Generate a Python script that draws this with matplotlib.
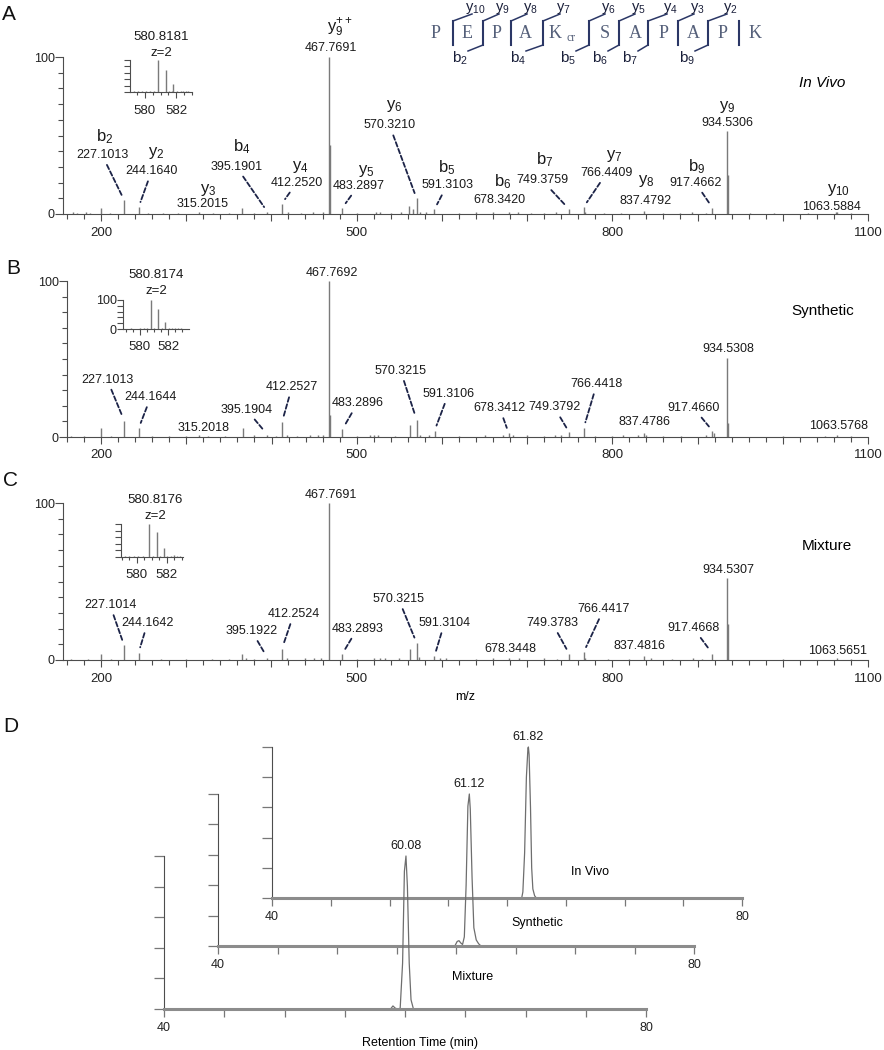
import numpy as np
import matplotlib
matplotlib.use("Agg")
import matplotlib.pyplot as plt
from matplotlib.ticker import MultipleLocator, FixedLocator, FuncFormatter

plt.rcParams["font.family"] = ["Liberation Sans", "DejaVu Sans"]
plt.rcParams["mathtext.default"] = "regular"

W, H = 884, 1050
PEAK = "#7a7a7a"
AXC = "#4d4d4d"
LEAD = "#1c2347"

# ---------------- MS/MS spectra (m/z, relative intensity %) ----------------
a_mz = [166.8, 172, 182.4, 187, 200.0, 211, 227.10, 244.16, 255, 273,
        290, 315.20, 331, 350, 365.6, 380, 395.19, 412.25, 419.5, 435,
        448.8, 460.5, 467.77, 468.27, 483.29, 500, 523, 527, 540, 552.4,
        562, 566, 570.32, 574, 581.7, 591.31, 620.7, 640, 659.8, 678.34,
        689, 705, 720, 734, 749.38, 766.44, 768, 790, 810, 837.48,
        860, 880, 894, 910, 917.47, 934.53, 935.53, 961, 990, 1030,
        1062, 1063.59, 1080]
a_int = [1, 0.7, 1, 0.8, 3.8, 0.6, 9, 4.3, 0.7, 0.8,
         0.6, 1.5, 0.6, 0.8, 4, 0.7, 1.5, 6.6, 1.2, 0.8,
         1.2, 1.5, 100, 44, 4, 0.6, 1.5, 1.2, 0.7, 1.2,
         5, 3.5, 10, 1.5, 1.2, 3, 0.8, 1.3, 1.0, 1.3,
         1.0, 0.7, 0.6, 1.0, 3, 4.5, 1.5, 0.7, 0.8, 2,
         0.6, 0.8, 1.2, 0.7, 4, 53, 25, 0.8, 0.6, 0.6,
         1.0, 1.2, 0.6]

b_mz = [165, 180, 200.0, 212, 227.10, 244.16, 260, 280, 300, 315.20,
        325, 345, 367, 380, 395.19, 405, 412.25, 418, 430, 445,
        455, 460, 467.77, 468.27, 483.29, 500, 515, 520, 525, 545,
        562, 570.32, 574, 585, 591.31, 620, 650, 672, 678.34, 683,
        700, 720, 733, 740, 749.38, 766.44, 780, 800, 812, 830,
        837.48, 840, 860, 880, 910, 917.47, 919, 934.53, 935.53, 1000,
        1050, 1063.58, 1080]
b_int = [0.6, 0.7, 5.7, 0.6, 10.5, 5.7, 0.7, 0.8, 0.6, 1.5,
         0.8, 0.6, 6, 1, 1.5, 0.8, 9.5, 1.5, 0.8, 1,
         1.2, 1.5, 100, 14, 5, 0.8, 1.2, 1, 1, 0.8,
         8, 11, 1.5, 1.2, 4, 0.8, 1.2, 1.5, 2.5, 1.5,
         1.5, 0.8, 1, 1.2, 3, 6, 0.8, 0.6, 1.2, 1,
         2.5, 1.2, 0.8, 0.6, 1.0, 4, 2.5, 50.6, 9, 0.6,
         0.8, 1, 0.8]

c_mz = [165, 185, 200.0, 212, 227.10, 244.16, 270, 300, 330, 350,
        365, 370, 380, 395.19, 412.25, 418, 440, 450, 458, 467.77,
        483.29, 500, 520, 527, 533, 550, 563, 570.32, 573, 591.31,
        598, 605, 640, 660, 678.34, 690, 720, 735, 749.38, 766.44,
        768, 795, 820, 837.48, 845, 870, 895, 905, 917.47, 934.53,
        935.53, 1000, 1063.57, 1080]
c_int = [0.6, 0.8, 4, 0.6, 9.5, 4.7, 0.6, 0.8, 0.6, 0.7,
         4, 1, 0.8, 1.5, 7, 1.5, 1, 1.2, 1.5, 100,
         4, 0.8, 1, 1.5, 1, 1.2, 7, 11, 2, 2.5,
         1.5, 1, 0.8, 1, 1.5, 1.5, 1.2, 0.8, 4, 5,
         1.5, 0.6, 0.8, 2.5, 1.2, 0.6, 1.2, 0.8, 4, 52,
         23, 0.6, 1, 0.6]

# precursor isotope insets
a_iso_mz = [579.3, 579.6, 579.8, 580.1, 580.35, 580.6, 580.82, 581.32, 581.55, 581.7,
            581.82, 582.05, 582.3, 582.45, 582.6, 582.75]
a_iso_int = [3, 2, 3, 2, 3, 2, 100, 68, 3, 4, 26, 3, 4, 3, 3, 2]
b_iso_mz = [579.4, 580.0, 580.3, 580.5, 580.82, 581.0, 581.32, 581.55, 581.82, 582.1,
            582.3, 582.5, 582.7, 582.9]
b_iso_int = [2, 3, 3, 3, 100, 4, 68, 3, 25, 4, 3, 5, 3, 3]
c_iso_mz = [579.2, 579.5, 579.8, 580.1, 580.4, 580.82, 581.1, 581.32, 581.55, 581.82,
            582.05, 582.3, 582.5, 582.7, 582.9]
c_iso_int = [3, 3, 2, 3, 2, 100, 4, 75, 4, 27, 3, 4, 5, 3, 3]
precursor = ["580.8181", "580.8174", "580.8176"]

# labelled fragments: text, offset x/y (px), leader, [ion, ion offset x/y]
ann_a = [("227.1013", -22, 45, True, "b$_2$", 3, 18),
         ("244.1640", 13, 36, True, "y$_2$", 5, 18),
         ("315.2015", 3, 8, False, "y$_3$", 6, 14),
         ("395.1901", -31, 45, True, "b$_4$", 5, 20),
         ("412.2520", 15, 21, True, "y$_4$", 3, 16),
         ("467.7691", 1.5, 9, False, "y$_9^{++}$", 9, 20),
         ("483.2897", 16, 22, True, "y$_5$", 8, 15),
         ("570.3210", -27, 73, True, "y$_6$", 5, 19),
         ("591.3103", 12.6, 24, True, "b$_5$", 0, 18),
         ("678.3420", -9, 12, False, "b$_6$", 3, 18),
         ("749.3759", -27, 29, True, "b$_7$", 3, 21),
         ("766.4409", 23, 34, True, "y$_7$", 7, 17),
         ("837.4792", 1, 10, False, "y$_8$", 1, 20),
         ("917.4662", -17, 25, True, "b$_9$", 1, 16),
         ("934.5306", 0, 8, False, "y$_9$", 0, 16),
         ("1063.5884", -5, 5, False, "y$_{10}$", 7, 17)]
ann_b = [("227.1013", -17, 41, True), ("244.1644", 12, 31, True),
         ("315.2018", 4, 7, False), ("395.1904", -21, 25, True),
         ("412.2527", 10, 35, True), ("467.7692", 2.5, 8, False),
         ("483.2896", 15, 26, True), ("570.3215", -16, 49, True),
         ("591.3106", 14, 37, True), ("678.3412", -9, 25, True),
         ("749.3792", -15, 25, True), ("766.4418", 13, 43.5, True),
         ("837.4786", 0, 11, False), ("917.4660", -19, 23, True),
         ("934.5308", 1, 9, False), ("1063.5768", 1.6, 9, False)]
ann_c = [("227.1014", -14, 40, True), ("244.1642", 9, 29.6, True),
         ("395.1922", -15.6, 26.6, True), ("412.2524", 12, 35, True),
         ("467.7691", 1.5, 8, False), ("483.2893", 15, 25, True),
         ("570.3215", -18, 43.7, True), ("591.3104", 10, 33, True),
         ("678.3448", 1.3, 8.6, False), ("749.3783", -17, 30.7, True),
         ("766.4417", 20, 43, True), ("837.4816", -4.5, 10, False),
         ("917.4668", -19, 25.7, True), ("934.5307", 1, 8, False),
         ("1063.5651", 1, 7.4, False)]

# ---------------- extracted ion chromatograms ----------------
iv_t = [40, 61.25, 61.35, 61.5, 61.65, 61.78, 61.82, 61.88, 62.0, 62.1, 62.2, 62.35, 62.5, 80]
iv_i = [0, 0, 4, 30, 80, 99, 100, 95, 60, 20, 6, 1.5, 0, 0]
syn_t = [40, 59.9, 60.1, 60.25, 60.4, 60.55, 60.7, 60.85, 61.0, 61.12, 61.2, 61.35, 61.5, 61.7, 61.9, 62.1, 80]
syn_i = [0, 0, 3, 3.5, 2, 1, 6, 40, 92, 100, 90, 45, 12, 4, 1.5, 0, 0]
mix_t = [40, 58.8, 59.0, 59.2, 59.4, 59.6, 59.8, 59.95, 60.08, 60.2, 60.35, 60.5, 60.7, 80]
mix_i = [0, 0, 2, 0.5, 0, 0.5, 30, 90, 100, 80, 30, 6, 0, 0]
rt_labels = ["61.82", "61.12", "60.08"]

# ---------------- peptide sequence ----------------
residues = ["P", "E", "P", "A", "K", "S", "A", "P", "A", "P", "K"]
y_ions = [10, 9, 8, 7, 6, 5, 4, 3, 2]
b_ions = [2, 4, 5, 6, 7, 9]

fig = plt.figure(figsize=(W / 100, H / 100), dpi=100)


def box(l, t, r, b):
    return [l / W, 1 - b / H, (r - l) / W, (b - t) / H]


def only(vals):
    return FuncFormatter(lambda v, p: f"{v:.0f}" if round(v) in vals else "")


def clean(ax):
    ax.patch.set_alpha(0)
    for s in ("top", "right"):
        ax.spines[s].set_visible(False)
    for s in ("left", "bottom"):
        ax.spines[s].set_color(AXC)
        ax.spines[s].set_linewidth(0.8)


def spectrum(rect, x0, mz, inten, ann, ion_labels=False):
    ax = fig.add_axes(box(*rect))
    clean(ax)
    ax.set_xlim(x0, 1100)
    ax.set_ylim(0, 100)
    ax.vlines(mz, 0, inten, color=PEAK, lw=1.0)
    ax.xaxis.set_major_locator(MultipleLocator(100))
    ax.xaxis.set_minor_locator(MultipleLocator(20))
    ax.xaxis.set_major_formatter(only((200, 500, 800, 1100)))
    ax.yaxis.set_major_locator(FixedLocator([0, 100]))
    ax.yaxis.set_minor_locator(MultipleLocator(10))
    ax.tick_params(axis="x", which="major", length=5, width=0.8, color=AXC,
                   labelsize=9.5, pad=4, labelcolor="#222")
    ax.tick_params(axis="x", which="minor", length=3.5, width=0.8, color=AXC)
    ax.tick_params(axis="y", which="major", length=5.5, width=0.8, color=AXC,
                   labelsize=9, pad=0.5, labelcolor="#222")
    ax.tick_params(axis="y", which="minor", length=3.5, width=0.8, color=AXC)
    mz = np.asarray(mz)
    inten = np.asarray(inten)
    for row in ann:
        lab, dx, dy, lead = row[:4]
        m = float(lab)
        h = inten[np.argmin(np.abs(mz - m))]
        arrow = None
        if lead:
            arrow = dict(arrowstyle="-", color=LEAD, lw=1.3,
                         linestyle=(0, (2.6, 1.4)), shrinkA=1, shrinkB=4)
        ax.annotate(lab, xy=(m, h), xytext=(dx, dy), textcoords="offset pixels",
                    ha="center", va="center", fontsize=9, color="#1a1a1a",
                    arrowprops=arrow, annotation_clip=False)
        if ion_labels:
            ion, ix, iy = row[4:]
            ax.annotate(ion, xy=(m, h), xytext=(dx + ix, dy + iy),
                        textcoords="offset pixels", ha="center", va="center",
                        fontsize=12, color="#1a1a1a", annotation_clip=False)
    return ax


def inset(rect, xlim, mz, inten, label, tdx, tdy, ylabels):
    ax = fig.add_axes(box(*rect))
    clean(ax)
    ax.set_xlim(*xlim)
    ax.set_ylim(0, 100)
    ax.vlines(mz, 0, inten, color=PEAK, lw=1.0)
    ax.xaxis.set_major_locator(FixedLocator([580, 582]))
    ax.xaxis.set_minor_locator(MultipleLocator(0.5))
    ax.yaxis.set_major_locator(FixedLocator([0, 100]))
    ax.yaxis.set_minor_locator(MultipleLocator(20))
    if not ylabels:
        ax.set_yticklabels([])
    ax.tick_params(axis="x", which="major", length=4.5, width=0.8, color=AXC,
                   labelsize=9.5, pad=4.5, labelcolor="#222")
    ax.tick_params(axis="x", which="minor", length=2.5, width=0.8, color=AXC)
    ax.tick_params(axis="y", which="both", length=4, width=0.8, color=AXC,
                   labelsize=9, pad=0.5, labelcolor="#222")
    top = float(label[:6])
    ax.annotate(label, xy=(top, 100), xytext=(tdx, tdy), textcoords="offset pixels",
                ha="center", va="center", fontsize=9.5, color="#1a1a1a",
                annotation_clip=False)
    ax.annotate("z=2", xy=(top, 100), xytext=(tdx, tdy - 16), textcoords="offset pixels",
                ha="center", va="center", fontsize=9.5, color="#1a1a1a",
                annotation_clip=False)
    return ax


spectrum((63, 57, 868, 214), 155.5, a_mz, a_int, ann_a, ion_labels=True)
spectrum((67, 281, 868, 437), 160, b_mz, b_int, ann_b)
spectrum((63, 503, 868, 660), 155.5, c_mz, c_int, ann_c)

inset((130, 60, 192, 92), (579.06, 583.0), a_iso_mz, a_iso_int, precursor[0], 4, 23, False)
inset((123, 300, 189, 329), (578.82, 583.48), b_iso_mz, b_iso_int, precursor[1], 5, 25, True)
inset((121, 524, 183, 557), (578.93, 583.1), c_iso_mz, c_iso_int, precursor[2], 6, 24, False)


def chrom(rect, t, inten, label):
    ax = fig.add_axes(box(*rect))
    clean(ax)
    ax.spines["bottom"].set_color("#8c8c8c")
    ax.spines["bottom"].set_linewidth(2.2)
    ax.set_xlim(40, 80)
    ax.set_ylim(0, 100)
    ax.plot(t, inten, color="#6e6e6e", lw=0.9, clip_on=False)
    ax.xaxis.set_major_locator(MultipleLocator(5))
    ax.xaxis.set_major_formatter(only((40, 80)))
    ax.yaxis.set_major_locator(MultipleLocator(20))
    ax.set_yticklabels([])
    ax.tick_params(axis="x", length=5.5, width=0.9, color="#777", labelsize=9,
                   pad=4, labelcolor="#222")
    ax.tick_params(axis="y", length=7, width=0.9, color="#777")
    ax.annotate(label, xy=(float(label), 100), xytext=(0, 10), textcoords="offset pixels",
                ha="center", va="center", fontsize=9, color="#1a1a1a",
                annotation_clip=False)
    return ax


chrom((272, 747, 742, 898), iv_t, iv_i, rt_labels[0])
chrom((218, 794, 694, 946), syn_t, syn_i, rt_labels[1])
chrom((164, 856, 646, 1009), mix_t, mix_i, rt_labels[2])

# ---------------- overlay: panel letters, titles, sequence ----------------
ov = fig.add_axes([0, 0, 1, 1])
ov.set_xlim(0, W)
ov.set_ylim(H, 0)
ov.axis("off")
ov.patch.set_alpha(0)

for letter, (x, y) in zip("ABCD", [(9, 15), (13, 269), (11, 481), (11, 726)]):
    ov.text(x, y, letter, fontsize=15, ha="center", va="center", color="#111")

ov.text(822, 83, "In Vivo", fontsize=11, style="italic", ha="center", va="center")
ov.text(823, 311, "Synthetic", fontsize=11, ha="center", va="center")
ov.text(827, 546, "Mixture", fontsize=11, ha="center", va="center")
ov.text(465, 697, "m/z", fontsize=9, ha="center", va="center")
ov.text(590, 872, "In Vivo", fontsize=9, ha="center", va="center")
ov.text(537, 923, "Synthetic", fontsize=9, ha="center", va="center")
ov.text(473, 977, "Mixture", fontsize=9, ha="center", va="center")
ov.text(420, 1043, "Retention Time (min)", fontsize=9, ha="center", va="center")

res_x = [436, 467, 497, 525, 555, 605, 635, 664, 693, 723, 755]
sep_x = [453, 483, 511, 543, 589, 619, 648, 678, 708, 739]
y_lab_x = [475, 502, 530, 563, 608, 638, 670, 697, 730]
b_lab_x = {2: 460, 4: 518, 5: 568, 6: 600, 7: 630, 9: 687}
SEQC = "#55607a"
NAVY = "#2b3766"
for r, x in zip(residues, res_x):
    ov.text(x, 33, r, family="Liberation Serif", fontsize=13, color=SEQC,
            ha="center", va="center")
ov.text(571, 38, "cr", family="Liberation Serif", fontsize=8.5, color=SEQC,
        ha="center", va="center")
for x in sep_x:
    ov.plot([x, x], [21, 45], color=NAVY, lw=1.5)
for k, (n, lx) in enumerate(zip(y_ions, y_lab_x)):
    sx = sep_x[k]
    ov.plot([sx, lx - 3], [21, 14], color=NAVY, lw=1.1)
    ov.text(lx, 9, "y$_{%d}$" % n, fontsize=10.5, color="#1a1f3a", ha="center", va="center")
for n in b_ions:
    sx = sep_x[n - 1]
    lx = b_lab_x[n]
    ov.plot([sx, lx + 8], [45, 51], color=NAVY, lw=1.1)
    ov.text(lx, 58, "b$_{%d}$" % n, fontsize=11, color="#1a1f3a", ha="center", va="center")

fig.savefig("out.png", dpi=100)
